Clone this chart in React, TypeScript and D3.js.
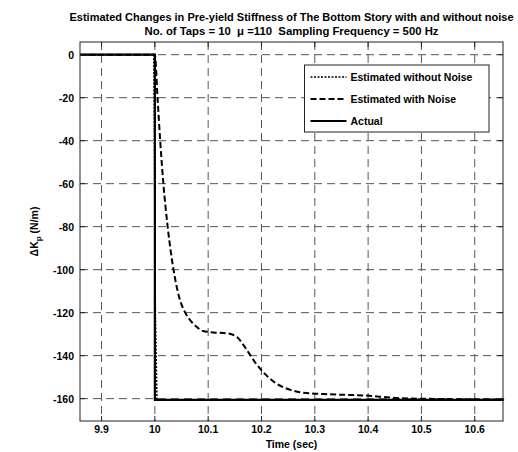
import React from 'react';
import * as d3 from 'd3';

const width = 518;
const height = 452;
const margin = { left: 80, right: 15, top: 42, bottom: 31 };

const titleLines = [
	'Estimated Changes in Pre-yield Stiffness of The Bottom Story with and without noise',
	'No. of Taps = 10  \u03bc =110  Sampling Frequency = 500 Hz',
];
const titleWidths = [444, 294];
const timeTicks = [9.9, 10, 10.1, 10.2, 10.3, 10.4, 10.5, 10.6];
const kTicks = [0, -20, -40, -60, -80, -100, -120, -140, -160];

// estimated without noise (dotted)
const cleanTime = [9.86, 9.998, 9.999, 10.001, 10.004, 10.655];
const cleanK = [0, 0, -30, -120, -160.5, -160.5];

// estimated with noise (dashed)
const noisyTime = [9.86, 10.0, 10.005, 10.01, 10.016, 10.024, 10.035, 10.047, 10.057, 10.068, 10.079, 10.09, 10.11, 10.135, 10.154, 10.166, 10.178, 10.19, 10.203, 10.228, 10.253, 10.278, 10.328, 10.39, 10.453, 10.515, 10.58, 10.655];
const noisyK = [0, 0, -20, -40, -60, -80, -100, -114, -120, -124, -126.7, -128.5, -129.2, -129.6, -131.3, -135, -139.4, -143.8, -147.6, -153, -155.8, -157.2, -158, -158.5, -159.7, -160.1, -160.3, -160.4];

// actual (solid)
const actualTime = [9.86, 10, 10, 10.655];
const actualK = [0, 0, -160.6, -160.6];

const legendItems = [
	{ label: 'Estimated without Noise', dash: '2,1.5', w: 1.5 },
	{ label: 'Estimated with Noise', dash: '6,3', w: 2 },
	{ label: 'Actual', dash: null, w: 2 },
];

const font = '"Liberation Sans", Arial, Helvetica, sans-serif';

const App = () => {
	const x = d3.scaleLinear().domain([9.8596, 10.653]).range([margin.left, width - margin.right]);
	const y = d3.scaleLinear().domain([5.9, -170.4]).range([margin.top, height - margin.bottom]);
	const toPts = (ts: number[], ks: number[]) => ts.map((t, i) => [t, ks[i]] as [number, number]);
	const lin = d3.line<[number, number]>().x((d) => x(d[0])).y((d) => y(d[1]));
	const smooth = d3.line<[number, number]>().x((d) => x(d[0])).y((d) => y(d[1])).curve(d3.curveMonotoneX);
	const [x0, x1] = x.range();
	const [y0, y1] = y.range();
	const gridColor = '#555';
	const lg = { x: 304.5, y: 65, w: 184.5, h: 67 };
	return (
		<svg width={width} height={height} style={{ position: 'absolute', left: 0, top: 0, background: '#fff' }} fontFamily={font}>
			<rect x={0} y={0} width={width} height={height} fill="#fff" />
			{titleLines.map((t, i) => (
				<text
					key={i}
					x={(x0 + x1) / 2}
					y={21 + i * 13.5}
					textAnchor="middle"
					fontSize={11.5}
					fontWeight="bold"
					textLength={titleWidths[i]}
					lengthAdjust="spacingAndGlyphs"
					style={{ whiteSpace: 'pre' }}
				>
					{t}
				</text>
			))}
			{/* grid */}
			{timeTicks.map((t) => (
				<line key={'gx' + t} x1={x(t)} x2={x(t)} y1={y0} y2={y1} stroke={gridColor} strokeWidth={1} strokeDasharray="8,5" />
			))}
			{kTicks.map((k) => (
				<line key={'gy' + k} x1={x0} x2={x1} y1={y(k)} y2={y(k)} stroke={gridColor} strokeWidth={1} strokeDasharray="8,5" />
			))}
			{/* curves */}
			<path d={lin(toPts(cleanTime, cleanK)) || ''} fill="none" stroke="#000" strokeWidth={1.5} strokeDasharray="2,1.5" />
			<path d={smooth(toPts(noisyTime, noisyK)) || ''} fill="none" stroke="#000" strokeWidth={2} strokeDasharray="6,3" />
			<path d={lin(toPts(actualTime, actualK)) || ''} fill="none" stroke="#000" strokeWidth={2.2} />
			{/* axes box & ticks */}
			<rect x={x0} y={y0} width={x1 - x0} height={y1 - y0} fill="none" stroke="#222" strokeWidth={1} />
			{timeTicks.map((t) => (
				<g key={'tx' + t}>
					<line x1={x(t)} x2={x(t)} y1={y0} y2={y0 + 5} stroke="#222" />
					<line x1={x(t)} x2={x(t)} y1={y1} y2={y1 - 5} stroke="#222" />
					<text x={x(t)} y={y1 + 12} textAnchor="middle" fontSize={10.5} fontWeight="bold">
						{d3.format('')(t)}
					</text>
				</g>
			))}
			{kTicks.map((k) => (
				<g key={'ty' + k}>
					<line x1={x0} x2={x0 + 5} y1={y(k)} y2={y(k)} stroke="#222" />
					<line x1={x1} x2={x1 - 5} y1={y(k)} y2={y(k)} stroke="#222" />
					<text x={x0 - 6} y={y(k) + 4} textAnchor="end" fontSize={10.5} fontWeight="bold">
						{k}
					</text>
				</g>
			))}
			<text x={(x0 + x1) / 2} y={448} textAnchor="middle" fontSize={10.5} fontWeight="bold">
				Time (sec)
			</text>
			<text transform={`translate(38,${(y0 + y1) / 2}) rotate(-90)`} textAnchor="middle" fontSize={10.5} fontWeight="bold">
				{'\u0394K'}
				<tspan dy={3} fontSize={8}>p</tspan>
				<tspan dy={-3}> (N/m)</tspan>
			</text>
			{/* legend */}
			<rect x={lg.x} y={lg.y} width={lg.w} height={lg.h} fill="#fff" stroke="#222" strokeWidth={1} />
			{legendItems.map((it, i) => {
				const ry = lg.y + 12 + i * 22;
				return (
					<g key={it.label}>
						<line x1={lg.x + 6} x2={lg.x + 42} y1={ry} y2={ry} stroke="#000" strokeWidth={it.w} strokeDasharray={it.dash || undefined} />
						<text x={lg.x + 46} y={ry + 4} fontSize={10.5} fontWeight="bold">
							{it.label}
						</text>
					</g>
				);
			})}
		</svg>
	);
};

export default App;
